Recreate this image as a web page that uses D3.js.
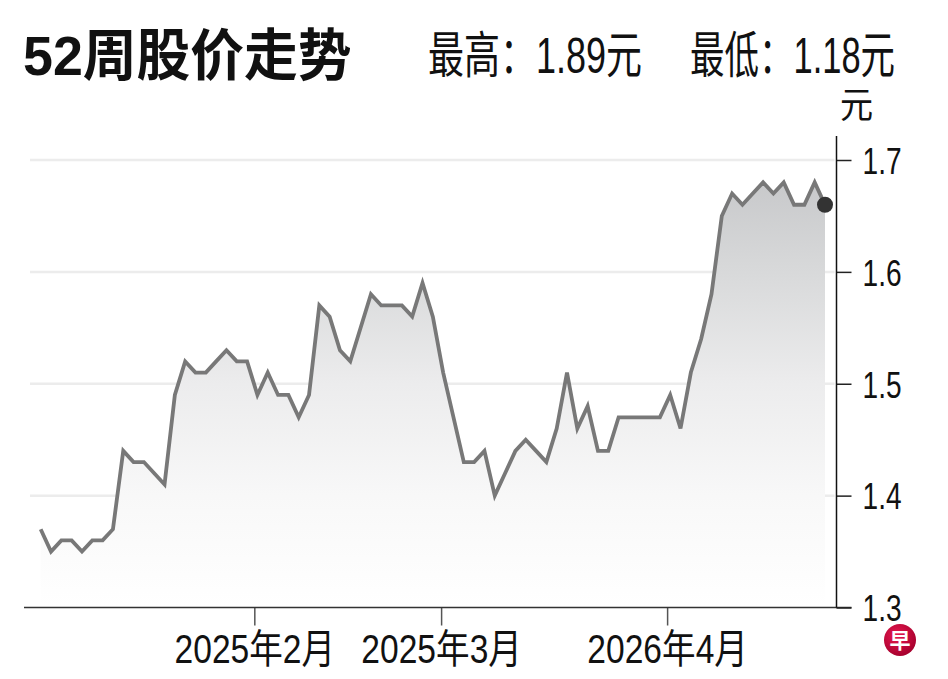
<!DOCTYPE html>
<html>
<head>
<meta charset="utf-8">
<script src="https://cdn.jsdelivr.net/npm/d3@7"></script>
<style>
  html, body { margin: 0; padding: 0; background: #fff; }
  svg { display: block; }
</style>
</head>
<body>
<svg id="chart" width="948" height="679"></svg>
<script>
// ---- data ----
const titleText = "52周股价走势";
const highText = "最高：1.89元";
const lowText = "最低：1.18元";
const unitText = "元";
const prices = [
  1.37, 1.35, 1.36, 1.36, 1.35, 1.36, 1.36, 1.37, 1.44, 1.43,
  1.43, 1.42, 1.41, 1.49, 1.52, 1.51, 1.51, 1.52, 1.53, 1.52,
  1.52, 1.49, 1.51, 1.49, 1.49, 1.47, 1.49, 1.57, 1.56, 1.53,
  1.52, 1.55, 1.58, 1.57, 1.57, 1.57, 1.56, 1.59, 1.56, 1.51,
  1.47, 1.43, 1.43, 1.44, 1.40, 1.42, 1.44, 1.45, 1.44, 1.43,
  1.46, 1.51, 1.46, 1.48, 1.44, 1.44, 1.47, 1.47, 1.47, 1.47,
  1.47, 1.49, 1.46, 1.51, 1.54, 1.58, 1.65, 1.67, 1.66, 1.67,
  1.68, 1.67, 1.68, 1.66, 1.66, 1.68, 1.66
];
const yTicks = [1.3, 1.4, 1.5, 1.6, 1.7];
const xTickPos = [20.7, 38.8, 60.7];
const xTickLabels = ["2025年2月", "2025年3月", "2026年4月"];

// ---- layout ----
const FONT = "'Liberation Sans', Arial, 'Noto Sans CJK SC', sans-serif";
const svg = d3.select("#chart");

const x = d3.scaleLinear().domain([0, prices.length - 1]).range([40.7, 825]);
const y = d3.scaleLinear().domain([1.3, 1.7]).range([607.5, 160]);
const axisX = 836.5;

// gradient for area
const defs = svg.append("defs");
const grad = defs.append("linearGradient")
  .attr("id", "areaGrad")
  .attr("gradientUnits", "userSpaceOnUse")
  .attr("x1", 0).attr("x2", 0)
  .attr("y1", y(1.7)).attr("y2", y(1.3));
[[0, "#c4c5c7"], [0.25, "#d8d9da"], [0.5, "#ececed"], [0.75, "#f8f8f8"], [1, "#ffffff"]]
  .forEach(([o, c]) => grad.append("stop").attr("offset", o).attr("stop-color", c));

const logoGrad = defs.append("radialGradient").attr("id", "logoGrad")
  .attr("cx", "40%").attr("cy", "35%").attr("r", "70%");
logoGrad.append("stop").attr("offset", 0).attr("stop-color", "#e8174f");
logoGrad.append("stop").attr("offset", 1).attr("stop-color", "#a3002c");

// gridlines
svg.append("g").selectAll("line")
  .data(yTicks.filter(d => d > 1.3))
  .join("line")
  .attr("x1", 30).attr("x2", axisX - 2)
  .attr("y1", d => y(d)).attr("y2", d => y(d))
  .attr("stroke", "#ececec").attr("stroke-width", 2.5);

// area
const area = d3.area()
  .x((d, i) => x(i))
  .y0(y(1.3))
  .y1(d => y(d));
svg.append("path").datum(prices)
  .attr("d", area)
  .attr("fill", "url(#areaGrad)");

// line
const line = d3.line().x((d, i) => x(i)).y(d => y(d));
svg.append("path").datum(prices)
  .attr("d", line)
  .attr("fill", "none")
  .attr("stroke", "#787878")
  .attr("stroke-width", 3.8)
  .attr("stroke-linejoin", "miter");

// end dot
svg.append("circle")
  .attr("cx", x(prices.length - 1))
  .attr("cy", y(prices[prices.length - 1]))
  .attr("r", 8)
  .attr("fill", "#333");

// x axis
const xAxis = d3.axisBottom(x)
  .tickValues(xTickPos)
  .tickSize(18)
  .tickFormat((d, i) => xTickLabels[i]);
const gx = svg.append("g").attr("transform", `translate(0,${y(1.3)})`).call(xAxis);
gx.select(".domain").remove();
gx.selectAll(".tick line").attr("stroke", "#555").attr("stroke-width", 1.5);
gx.selectAll(".tick text")
  .attr("y", 0).attr("dy", 0)
  .attr("transform", "translate(0,55.5) scale(0.84,1)")
  .attr("font-family", FONT)
  .attr("font-size", 40)
  .attr("fill", "#111")
  .attr("text-anchor", "middle");
svg.append("line")
  .attr("x1", 24).attr("x2", axisX + 15)
  .attr("y1", y(1.3)).attr("y2", y(1.3))
  .attr("stroke", "#333").attr("stroke-width", 1.5);

// y axis
const yAxis = d3.axisRight(y)
  .tickValues(yTicks)
  .tickSize(15)
  .tickFormat(d3.format(".1f"));
const gy = svg.append("g").attr("transform", `translate(${axisX},0)`).call(yAxis);
gy.select(".domain").remove();
gy.selectAll(".tick line").attr("stroke", "#222").attr("stroke-width", 1.5);
gy.selectAll(".tick text")
  .attr("x", 0).attr("dy", "0.36em")
  .attr("transform", "translate(26,0) scale(0.76,1)")
  .attr("font-family", FONT)
  .attr("font-size", 37)
  .attr("fill", "#111")
  .attr("text-anchor", "start");
svg.append("line")
  .attr("x1", axisX).attr("x2", axisX)
  .attr("y1", 136).attr("y2", y(1.3))
  .attr("stroke", "#111").attr("stroke-width", 1.5);

// texts
function addText(str, tx, ty, size, sx, weight) {
  return svg.append("text")
    .attr("transform", `translate(${tx},${ty}) scale(${sx},1)`)
    .attr("font-family", FONT)
    .attr("font-size", size)
    .attr("font-weight", weight || 400)
    .attr("fill", "#111")
    .text(str);
}
addText(titleText, 23, 75, 56, 0.96, 700);
addText(highText, 428, 73, 50, 0.72);
addText(lowText, 690, 73, 50, 0.69);
addText(unitText, 840, 118, 36, 0.92);

// logo
svg.append("circle").attr("cx", 900).attr("cy", 640).attr("r", 16).attr("fill", "url(#logoGrad)");
svg.append("text")
  .attr("x", 900).attr("y", 648)
  .attr("text-anchor", "middle")
  .attr("font-family", "'Noto Sans CJK SC', sans-serif")
  .attr("font-weight", 700)
  .attr("font-size", 21)
  .attr("fill", "#fff")
  .text("早");
</script>
</body>
</html>
